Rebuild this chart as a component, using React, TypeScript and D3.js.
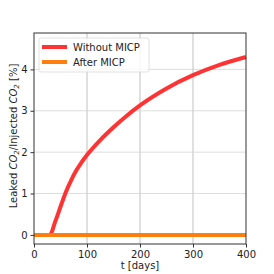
import * as d3 from "d3";
import { useEffect, useRef } from "react";

// days and leaked fraction [%]
const days = [0, 10, 20, 30, 40, 50, 60, 70, 80, 90, 100, 125, 150, 175, 200, 250, 300, 350, 400];
const withoutMicp = [0, 0, 0, 0, 0.32, 0.68, 1.03, 1.32, 1.56, 1.76, 1.93, 2.29, 2.6, 2.88, 3.13, 3.54, 3.86, 4.11, 4.3];
const afterMicp = [0, 0, 0, 0, 0, 0, 0, 0, 0, 0, 0, 0, 0, 0, 0, 0, 0, 0, 0];
const xTicks = [0, 100, 200, 300, 400];
const yTicks = [0, 1, 2, 3, 4];
const seriesNames = ["Without MICP", "After MICP"];
const seriesColors = ["#ff3333", "#ff7f0e"];

const W = 274;
const H = 274;
const margin = { top: 33, right: 28, bottom: 30, left: 34 };

export default function App() {
  const ref = useRef<SVGSVGElement>(null);

  useEffect(() => {
    const svg = d3.select(ref.current);
    svg.selectAll("*").remove();
    const font = "DejaVu Sans, sans-serif";

    const x = d3.scaleLinear().domain([0, 400]).range([margin.left, W - margin.right]);
    const y = d3.scaleLinear().domain([-0.22, 4.88]).range([H - margin.bottom, margin.top]);

    svg.append("rect").attr("width", W).attr("height", H).attr("fill", "white");

    // grid
    svg.append("g").selectAll("line").data(xTicks.slice(1, -1)).enter().append("line")
      .attr("x1", d => x(d)).attr("x2", d => x(d))
      .attr("y1", margin.top).attr("y2", H - margin.bottom)
      .attr("stroke", "#b0b0b0").attr("stroke-width", 0.8);
    svg.append("g").selectAll("line").data(yTicks).enter().append("line")
      .attr("x1", margin.left).attr("x2", W - margin.right)
      .attr("y1", d => y(d)).attr("y2", d => y(d))
      .attr("stroke", "#d4d4d4").attr("stroke-width", 0.8);

    const line = d3.line<number>()
      .x((_, i) => x(days[i])).y(d => y(d))
      .curve(d3.curveMonotoneX);
    [withoutMicp, afterMicp].forEach((vals, i) => {
      svg.append("path").datum(vals).attr("d", line)
        .attr("fill", "none").attr("stroke", seriesColors[i])
        .attr("stroke-width", 4).attr("stroke-linejoin", "round");
    });

    // frame
    svg.append("rect")
      .attr("x", margin.left).attr("y", margin.top)
      .attr("width", W - margin.left - margin.right)
      .attr("height", H - margin.top - margin.bottom)
      .attr("fill", "none").attr("stroke", "#333").attr("stroke-width", 1);

    const xAxis = svg.append("g")
      .attr("transform", `translate(0, ${H - margin.bottom})`)
      .call(d3.axisBottom(x).tickValues(xTicks).tickFormat(d3.format("d")).tickSize(3.5).tickPadding(3));
    const yAxis = svg.append("g")
      .attr("transform", `translate(${margin.left}, 0)`)
      .call(d3.axisLeft(y).tickValues(yTicks).tickFormat(d3.format("d")).tickSize(3.5).tickPadding(3));
    [xAxis, yAxis].forEach(a => {
      a.select(".domain").remove();
      a.selectAll("line").attr("stroke", "#333");
      a.selectAll("text").attr("font-family", font).attr("font-size", 10).attr("fill", "#222");
    });

    svg.append("text")
      .attr("x", (margin.left + W - margin.right) / 2).attr("y", H - 5)
      .attr("text-anchor", "middle").attr("font-family", font).attr("font-size", 10)
      .attr("fill", "#222")
      .text("t [days]");

    const yl = svg.append("text")
      .attr("transform", `translate(17, 136) rotate(-90)`)
      .attr("text-anchor", "middle").attr("font-family", font).attr("font-size", 10)
      .attr("fill", "#222");
    yl.append("tspan").text("Leaked ");
    yl.append("tspan").attr("font-style", "italic").text("CO");
    yl.append("tspan").attr("font-style", "italic").attr("font-size", 7).attr("dy", 2).text("2");
    yl.append("tspan").attr("dy", -2).text("/Injected ");
    yl.append("tspan").attr("font-style", "italic").text("CO");
    yl.append("tspan").attr("font-style", "italic").attr("font-size", 7).attr("dy", 2).text("2");
    yl.append("tspan").attr("dy", -2).text(" [%]");

    // legend
    const lg = svg.append("g").attr("transform", `translate(39, 38)`);
    lg.append("rect").attr("width", 110).attr("height", 34).attr("rx", 2)
      .attr("fill", "white").attr("fill-opacity", 0.8)
      .attr("stroke", "#d9d9d9").attr("stroke-width", 0.8);
    seriesNames.forEach((name, i) => {
      const cy = 9 + i * 15;
      lg.append("line").attr("x1", 3).attr("x2", 28).attr("y1", cy).attr("y2", cy)
        .attr("stroke", seriesColors[i]).attr("stroke-width", 4);
      lg.append("text").attr("x", 34).attr("y", cy + 3.5)
        .attr("font-family", font).attr("font-size", 10).attr("fill", "#222").text(name);
    });
  }, []);

  return (
    <svg ref={ref} width={W} height={H}
      style={{ position: "absolute", left: 0, top: 0, display: "block" }} />
  );
}
